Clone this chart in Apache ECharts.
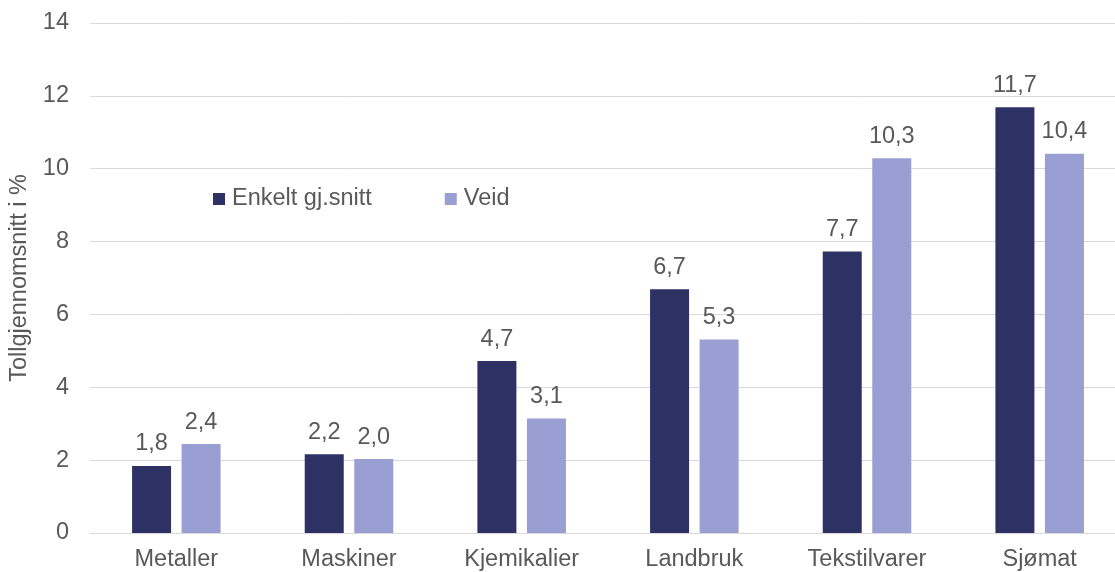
<!DOCTYPE html>
<html>
<head>
<meta charset="utf-8">
<script src="https://cdn.jsdelivr.net/npm/echarts@6/dist/echarts.min.js"></script>
<style>
  html, body { margin: 0; padding: 0; background: #fff; }
  #chart { width: 1115px; height: 572px; }
</style>
</head>
<body>
<div id="chart"></div>
<script>
var categories = ['Metaller', 'Maskiner', 'Kjemikalier', 'Landbruk', 'Tekstilvarer', 'Sjømat'];
var enkelt = [1.84, 2.16, 4.72, 6.69, 7.73, 11.69];
var veid = [2.44, 2.03, 3.14, 5.31, 10.29, 10.41];
var yTicks = [0, 2, 4, 6, 8, 10, 12, 14];

var myChart = echarts.init(document.getElementById('chart'));
var txt = '#595959';
var font = 'Liberation Sans';
var fs = 23.5;

function fmt(p) {
    return p.value.toFixed(1).replace('.', ',');
}

option = {
    animation: false,
    textStyle: { fontFamily: font },
    legend: {
        left: 208,
        top: 182,
        itemWidth: 12,
        itemHeight: 12,
        itemGap: 73,
        icon: 'rect',
        textStyle: { color: txt, fontSize: fs, fontFamily: font, padding: [0, 0, 0, 2] },
        data: ['Enkelt gj.snitt', 'Veid']
    },
    // plot area runs past the right edge of the picture
    grid: {
        left: 90,
        right: -11,
        top: 23,
        bottom: 39,
        outerBoundsMode: 'none'
    },
    xAxis: {
        type: 'category',
        data: categories,
        axisTick: { show: false },
        axisLine: { lineStyle: { color: '#d9d9d9', width: 1 } },
        axisLabel: { color: txt, fontSize: fs, fontFamily: font, margin: 15 }
    },
    yAxis: {
        type: 'value',
        min: yTicks[0],
        max: yTicks[yTicks.length - 1],
        interval: 2,
        name: 'Tollgjennomsnitt i %',
        nameLocation: 'middle',
        nameGap: 56,
        nameTextStyle: { color: txt, fontSize: fs, fontFamily: font },
        axisLabel: { color: txt, fontSize: fs, fontFamily: font, margin: 21 },
        splitLine: { lineStyle: { color: '#d9d9d9', width: 1 } }
    },
    series: [{
        name: 'Enkelt gj.snitt',
        type: 'bar',
        data: enkelt,
        barWidth: 39,
        barGap: '27%',
        itemStyle: { color: '#2e3164' },
        label: { show: true, position: 'top', distance: 10, color: txt, fontSize: fs, fontFamily: font, formatter: fmt }
    }, {
        name: 'Veid',
        type: 'bar',
        data: veid,
        barWidth: 39,
        itemStyle: { color: '#9a9fd3' },
        label: { show: true, position: 'top', distance: 10, color: txt, fontSize: fs, fontFamily: font, formatter: fmt }
    }]
};

myChart.setOption(option);
</script>
</body>
</html>
